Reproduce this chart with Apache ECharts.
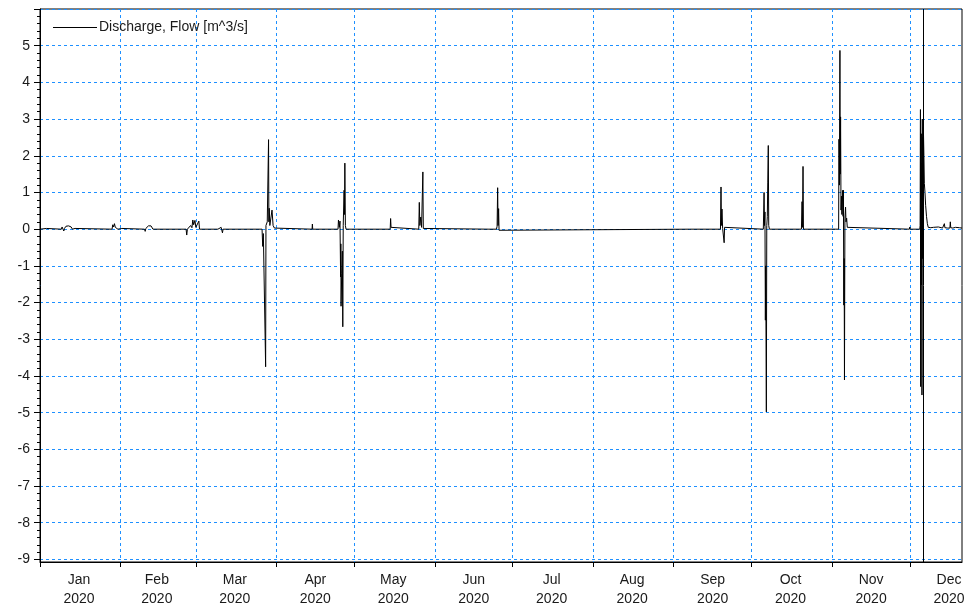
<!DOCTYPE html>
<html>
<head>
<meta charset="utf-8">
<script src="https://cdn.jsdelivr.net/npm/echarts@6/dist/echarts.min.js"></script>
<style>
html,body{margin:0;padding:0;background:#fff;}
#chart{width:974px;height:605px;}
</style>
</head>
<body>
<div id="chart"></div>
<script>
// ---- data ----
const seriesName = 'Discharge, Flow [m^3/s]';
const xMin = '2020-01-01 00:00';
const xMax = '2020-12-21 00:00';
const cursorTime = '2020-12-06 00:00';
const monthStarts = ['2020-01-01','2020-02-01','2020-03-01','2020-04-01','2020-05-01','2020-06-01',
  '2020-07-01','2020-08-01','2020-09-01','2020-10-01','2020-11-01','2020-12-01'];
const monthLabelDates = ['2020-01-16','2020-02-15','2020-03-16','2020-04-16','2020-05-16','2020-06-16',
  '2020-07-16','2020-08-16','2020-09-16','2020-10-16','2020-11-16','2020-12-16'];
const monthNames = ['Jan','Feb','Mar','Apr','May','Jun','Jul','Aug','Sep','Oct','Nov','Dec'];
const yMin = -9.07, yMax = 6;
const yTicks = [-9,-8,-7,-6,-5,-4,-3,-2,-1,0,1,2,3,4,5,6];
const yLabels = [-9,-8,-7,-6,-5,-4,-3,-2,-1,0,1,2,3,4,5];
const yMinorStep = 0.2;

const times = [
 '2020-01-01 00:00','2020-01-03 12:00','2020-01-03 18:00','2020-01-09 06:00','2020-01-09 12:00','2020-01-09 20:00',
 '2020-01-10 04:00','2020-01-10 10:00','2020-01-11 00:00','2020-01-11 12:00','2020-01-12 00:00','2020-01-12 12:00',
 '2020-01-13 00:00','2020-01-13 12:00','2020-01-14 12:00','2020-01-14 18:00',
 '2020-01-28 18:00','2020-01-29 00:00','2020-01-29 08:00','2020-01-29 16:00','2020-01-30 00:00','2020-01-30 12:00',
 '2020-01-31 00:00','2020-02-01 12:00','2020-02-02 00:00',
 '2020-02-10 06:00','2020-02-10 12:00','2020-02-10 18:00','2020-02-11 06:00','2020-02-11 18:00','2020-02-12 06:00',
 '2020-02-12 18:00','2020-02-13 06:00','2020-02-13 12:00',
 '2020-02-26 06:00','2020-02-26 12:00','2020-02-26 18:00','2020-02-27 12:00','2020-02-28 00:00','2020-02-28 12:00',
 '2020-02-28 20:00','2020-02-29 04:00','2020-02-29 16:00','2020-03-01 00:00','2020-03-01 12:00','2020-03-02 04:00',
 '2020-03-02 10:00',
 '2020-03-09 12:00','2020-03-09 18:00','2020-03-10 06:00','2020-03-10 18:00','2020-03-11 06:00','2020-03-11 12:00',
 '2020-03-26 12:00','2020-03-26 18:00','2020-03-27 00:00','2020-03-27 12:00','2020-03-27 21:00','2020-03-28 00:00',
 '2020-03-28 12:00','2020-03-29 00:00','2020-03-29 03:00','2020-03-29 06:00','2020-03-29 12:00','2020-03-30 00:00',
 '2020-03-30 08:00','2020-03-30 14:00','2020-03-30 18:00','2020-03-31 06:00','2020-03-31 12:00',
 '2020-04-14 18:00','2020-04-14 21:00','2020-04-15 00:00',
 '2020-04-24 18:00','2020-04-24 22:00','2020-04-25 06:00','2020-04-25 12:00','2020-04-25 18:00','2020-04-25 20:00',
 '2020-04-25 22:00','2020-04-26 04:00','2020-04-26 10:00','2020-04-26 14:00','2020-04-26 18:00','2020-04-27 02:00',
 '2020-04-27 06:00','2020-04-27 09:00','2020-04-27 14:00','2020-04-27 20:00',
 '2020-05-14 20:00','2020-05-15 00:00','2020-05-15 04:00','2020-05-15 08:00',
 '2020-05-25 20:00','2020-05-26 01:00','2020-05-26 06:00','2020-05-26 14:00','2020-05-26 22:00','2020-05-27 10:00',
 '2020-05-27 14:00','2020-05-27 20:00',
 '2020-06-21 20:00','2020-06-22 00:00','2020-06-22 04:00',
 '2020-06-24 18:00','2020-06-25 00:00','2020-06-25 05:00','2020-06-25 09:00','2020-06-25 14:00','2020-06-25 18:00',
 '2020-06-26 00:00',
 '2020-09-07 00:00','2020-09-07 04:00','2020-09-07 08:00',
 '2020-09-19 00:00','2020-09-19 05:00','2020-09-19 09:00','2020-09-19 14:00','2020-09-19 20:00','2020-09-20 04:00',
 '2020-09-20 10:00','2020-09-20 14:00','2020-09-20 20:00',
 '2020-10-05 12:00','2020-10-05 19:00','2020-10-05 23:00','2020-10-06 03:00','2020-10-06 07:00','2020-10-06 10:00',
 '2020-10-06 16:00','2020-10-06 20:00','2020-10-07 01:00','2020-10-07 05:00','2020-10-07 10:00','2020-10-07 14:00',
 '2020-10-07 20:00',
 '2020-10-20 04:00','2020-10-20 10:00','2020-10-20 14:00','2020-10-20 19:00','2020-10-20 23:00',
 '2020-11-02 04:00','2020-11-02 06:00','2020-11-02 08:00',
 '2020-11-03 12:00','2020-11-03 15:00','2020-11-03 19:00','2020-11-04 00:00','2020-11-04 03:00','2020-11-04 06:00',
 '2020-11-04 10:00','2020-11-04 14:00','2020-11-04 18:00','2020-11-05 02:00','2020-11-05 05:00','2020-11-05 08:00',
 '2020-11-05 12:00','2020-11-05 15:00','2020-11-05 18:00','2020-11-05 22:00','2020-11-06 04:00','2020-11-06 08:00',
 '2020-11-06 14:00','2020-11-06 20:00','2020-11-07 04:00',
 '2020-11-30 18:00','2020-11-30 22:00','2020-12-01 02:00',
 '2020-12-04 18:00','2020-12-04 21:00','2020-12-05 00:00','2020-12-05 02:00','2020-12-05 04:00','2020-12-05 06:00',
 '2020-12-05 08:00','2020-12-05 10:00','2020-12-05 12:00','2020-12-05 14:00','2020-12-05 17:00','2020-12-05 19:00',
 '2020-12-05 21:00','2020-12-06 00:00','2020-12-06 03:00','2020-12-06 08:00','2020-12-06 12:00','2020-12-06 18:00',
 '2020-12-07 00:00','2020-12-07 08:00','2020-12-07 16:00','2020-12-08 00:00',
 '2020-12-09 00:00','2020-12-09 12:00','2020-12-10 00:00','2020-12-10 12:00','2020-12-11 22:00','2020-12-12 06:00',
 '2020-12-13 12:00','2020-12-14 00:00','2020-12-14 05:00','2020-12-14 10:00','2020-12-15 12:00','2020-12-16 08:00',
 '2020-12-16 12:00','2020-12-16 16:00','2020-12-17 12:00','2020-12-18 12:00','2020-12-19 00:00','2020-12-20 00:00',
 '2020-12-21 00:00'
];
const flow = [
 0,0.02,0,0,0.06,0.03,
 -0.05,0.02,0.08,0.03,0.09,0.05,
 0.06,0,0.02,0,
 0,0.12,0.06,0.15,0.05,0.02,
 0,0.02,0,
 0,-0.06,0.02,0.06,0.09,0.08,
 0.09,0.05,0,
 0,-0.16,0,0.03,0.1,0.04,
 0.25,0.12,0.24,0.05,0,0.22,
 0,
 0,0.04,0.02,0.05,-0.1,0,
 0,-0.47,-0.12,-0.1,-3.75,0.1,
 0.2,2.44,0.2,0.57,0.1,0.15,
 0.52,0.5,0.1,0.03,0,
 0,0.14,0,
 0,0.25,0.05,0.22,-1.3,-0.4,
 -2.1,-1.2,-0.6,-2.66,0.1,1.06,
 0.4,1.8,0.1,0,
 0,0.29,0.05,0,
 0,0.73,0.1,0.33,0.05,1.56,
 0.02,0,
 0,-0.03,0,
 0,0.08,1.13,0.1,0.56,-0.03,
 0,
 0,-0.03,0,
 0,1.15,0.1,0.55,0.02,0,
 -0.37,0.05,0,
 0,1.0,0.1,0.47,-2.48,-1.0,
 -4.98,0.1,0.34,1.26,2.28,0.1,
 0,
 0,0.75,0.05,1.71,0,
 0,0.03,0,
 0,2.45,1.2,4.87,1.5,3.06,
 0.52,0.9,0.4,1.06,0.35,1.06,
 -2.07,-0.8,-4.11,0.3,0.6,0.2,
 0.3,0.05,0,
 0,0.06,0,
 0,0.1,3.26,-4.29,1.8,-1.5,
 2.6,-1.52,1.5,-4.52,3.0,-0.8,
 2.5,0.5,2.78,2.0,1.25,1.0,
 0.65,0.35,0.15,0.05,
 0.04,0.02,0.05,0.03,0.06,0.02,
 0.03,0.04,0.15,0.04,0.03,0.03,
 0.2,0.04,0.03,0.05,0.03,0.04,
 0.03
];

// ---- chart ----
const FONT = 'Liberation Sans, Arial, sans-serif';
const TXT = '#1a1a1a';
const GRIDC = '#1E90FF';
const chart = echarts.init(document.getElementById('chart'), null, {renderer: 'canvas'});
const parseT = s => echarts.time.parse(s).getTime();
const yMinorTicks = [];
for (let k = Math.ceil(yMin / yMinorStep); k * yMinorStep <= yMax + 1e-9; k++) {
  yMinorTicks.push(Math.round(k * yMinorStep * 100) / 100);
}

chart.setOption({
  animation: false,
  backgroundColor: '#fff',
  textStyle: {fontFamily: FONT},
  grid: {left: 40, top: 9, right: 12, bottom: 43, outerBoundsMode: 'none', containLabel: false,
    show: true, borderColor: '#000', borderWidth: 1, backgroundColor: 'transparent'},
  legend: {
    show: true, left: 53, top: 20.5, padding: 0, itemWidth: 44, itemHeight: 1, itemGap: 0,
    icon: 'rect', itemStyle: {color: '#000'},
    textStyle: {fontFamily: FONT, fontSize: 14, color: TXT, padding: [0, 0, 0, -3]},
    data: [seriesName]
  },
  xAxis: {
    type: 'value', min: parseT(xMin), max: parseT(xMax),
    axisLine: {show: true, onZero: false, lineStyle: {color: '#000', width: 1}},
    axisTick: {show: true, length: 5, lineStyle: {color: '#000'}, customValues: monthStarts.map(parseT)},
    axisLabel: {
      customValues: monthLabelDates.map(parseT),
      margin: 9, fontFamily: FONT, fontSize: 14, color: TXT, lineHeight: 19,
      formatter: function (v) {
        const d = new Date(v);
        return monthNames[d.getMonth()] + '\n' + d.getFullYear();
      }
    },
    splitLine: {show: true, lineStyle: {color: GRIDC, type: [3, 3], width: 1}},
    minorTick: {show: false}
  },
  yAxis: [{
    type: 'value', min: yMin, max: yMax,
    axisLine: {show: true, onZero: false, lineStyle: {color: '#000', width: 1}},
    axisTick: {show: true, length: 6, lineStyle: {color: '#000'}, customValues: yTicks},
    axisLabel: {
      customValues: yLabels,
      margin: 10, fontFamily: FONT, fontSize: 14, color: TXT
    },
    splitLine: {show: true, lineStyle: {color: GRIDC, type: [3, 3], width: 1}}
  }, {
    type: 'value', min: yMin, max: yMax, position: 'left',
    axisLine: {show: false, onZero: false},
    axisTick: {show: true, length: 3, lineStyle: {color: '#000'}, customValues: yMinorTicks},
    axisLabel: {show: false},
    splitLine: {show: false}
  }],
  series: [{
    name: seriesName, type: 'line', symbol: 'none', showSymbol: false, yAxisIndex: 0,
    lineStyle: {color: '#000', width: 1}, itemStyle: {color: '#000'},
    data: times.map((t, i) => [parseT(t), flow[i]]),
    markLine: {
      silent: true, symbol: 'none', label: {show: false},
      lineStyle: {color: '#000', type: 'solid', width: 1},
      data: [{xAxis: parseT(cursorTime)}]
    }
  }]
});
</script>
</body>
</html>
